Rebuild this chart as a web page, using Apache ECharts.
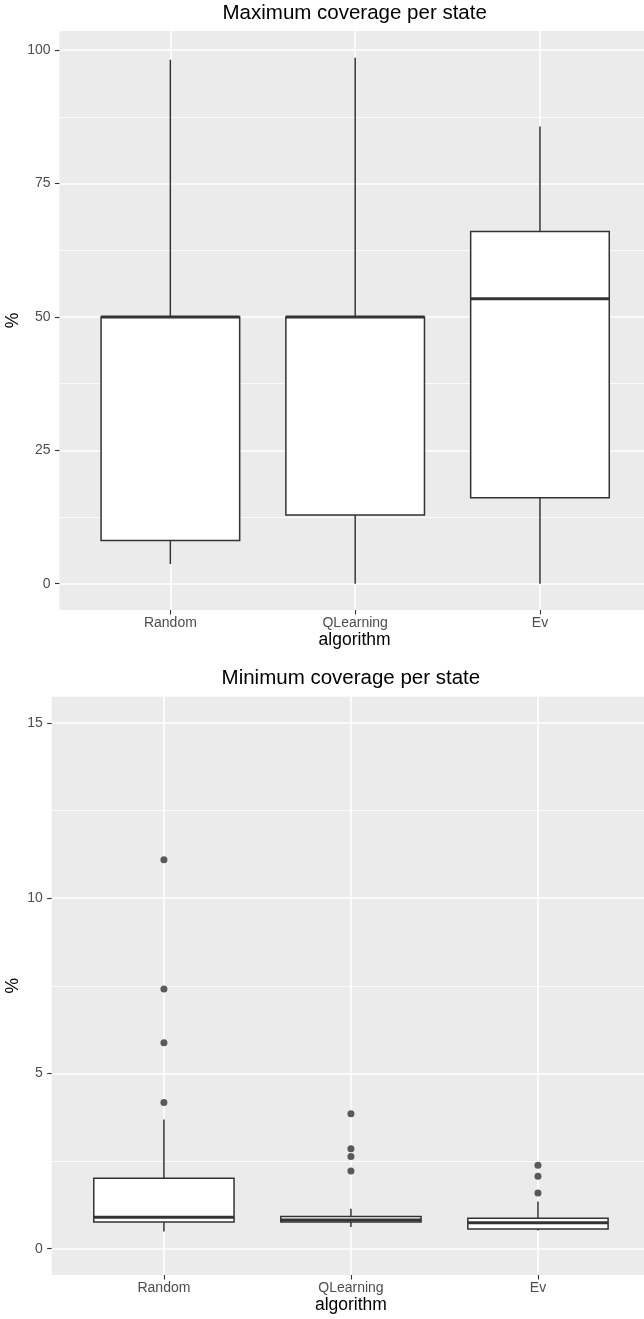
<!DOCTYPE html>
<html>
<head>
<meta charset="utf-8">
<script src="https://cdn.jsdelivr.net/npm/echarts@6/dist/echarts.min.js"></script>
<style>
html,body{margin:0;padding:0;background:#fff;}
#c{width:644px;height:1319px;}
</style>
</head>
<body>
<div id="c"></div>
<script>
// ---- data ----
const categories = ['Random', 'QLearning', 'Ev'];

// Top chart: Maximum coverage per state
const maxLow    = [3.7, 0, 0];
const maxQ1     = [8.1, 12.9, 16.1];
const maxMedian = [50.0, 50.0, 53.4];
const maxQ3     = [50.0, 50.0, 66.0];
const maxHigh   = [98.2, 98.6, 85.7];
const maxTicks  = [0, 25, 50, 75, 100];
const maxMinor  = [12.5, 37.5, 62.5, 87.5];

// Bottom chart: Minimum coverage per state
const minLow    = [0.49, 0.62, 0.52];
const minQ1     = [0.76, 0.76, 0.56];
const minMedian = [0.90, 0.82, 0.74];
const minQ3     = [2.01, 0.92, 0.87];
const minHigh   = [3.69, 1.14, 1.35];
const minOutRandom    = [11.10, 7.41, 5.88, 4.17];
const minOutQLearning = [3.85, 2.85, 2.63, 2.22];
const minOutEv        = [2.38, 2.07, 1.59];
const minTicks  = [0, 5, 10, 15];
const minMinor  = [2.5, 7.5, 12.5];

const catTicks = [0, 1, 2];

// ---- helpers ----
const FONT = '"Liberation Sans", Arial, sans-serif';
const DARK = '#333333';

function boxData(lo, q1, med, q3, hi) {
  return lo.map((v, i) => [i, lo[i], q1[i], med[i], q3[i], hi[i]]);
}
function outlierData(lists) {
  const out = [];
  lists.forEach((arr, i) => arr.forEach(v => out.push([i, v])));
  return out;
}
function renderBox(params, api) {
  const x = api.value(0);
  const pLo = api.coord([x, api.value(1)]);
  const pQ1 = api.coord([x, api.value(2)]);
  const pMed = api.coord([x, api.value(3)]);
  const pQ3 = api.coord([x, api.value(4)]);
  const pHi = api.coord([x, api.value(5)]);
  const w = api.size([0.75, 0])[0];
  const cx = pMed[0];
  return {
    type: 'group',
    children: [
      { type: 'line', shape: { x1: cx, y1: pQ3[1], x2: cx, y2: pHi[1] },
        style: { stroke: DARK, lineWidth: 1.5 } },
      { type: 'line', shape: { x1: cx, y1: pQ1[1], x2: cx, y2: pLo[1] },
        style: { stroke: DARK, lineWidth: 1.5 } },
      { type: 'rect', shape: { x: cx - w / 2, y: pQ3[1], width: w, height: pQ1[1] - pQ3[1] },
        style: { fill: '#ffffff', stroke: DARK, lineWidth: 1.5 } },
      { type: 'line', shape: { x1: cx - w / 2, y1: pMed[1], x2: cx + w / 2, y2: pMed[1] },
        style: { stroke: DARK, lineWidth: 3 } }
    ]
  };
}
function xAxisDef(gridIndex, max) {
  return {
    type: 'value', gridIndex: gridIndex, min: -0.6, max: max, position: 'bottom',
    axisLine: { show: false, onZero: false },
    axisTick: { show: true, length: 4.5, customValues: catTicks, lineStyle: { color: DARK, width: 1.1 } },
    axisLabel: { show: true, customValues: catTicks, margin: 6.5, color: '#4D4D4D',
      fontSize: 14, fontFamily: FONT, formatter: v => categories[Math.round(v)] },
    splitLine: { show: true, lineStyle: { color: '#ffffff', width: 1.6 } }
  };
}
function yAxisDef(gridIndex, min, max, ticks) {
  return {
    type: 'value', gridIndex: gridIndex, min: min, max: max, position: 'left',
    axisLine: { show: false, onZero: false },
    axisTick: { show: true, length: 4.5, customValues: ticks, lineStyle: { color: DARK, width: 1.1 } },
    axisLabel: { show: true, customValues: ticks, margin: 9, color: '#4D4D4D',
      fontSize: 14, fontFamily: FONT },
    splitLine: { show: true, lineStyle: { color: '#ffffff', width: 1.6 } }
  };
}
function yMinorDef(gridIndex, min, max, ticks) {
  return {
    type: 'value', gridIndex: gridIndex, min: min, max: max, position: 'left',
    axisLine: { show: false, onZero: false },
    axisTick: { show: false, customValues: ticks },
    axisLabel: { show: false, customValues: ticks },
    splitLine: { show: true, lineStyle: { color: '#ffffff', width: 0.8 } }
  };
}
function textEl(text, x, y, size, color, rot) {
  return {
    type: 'text', x: x, y: y, rotation: rot || 0, silent: true,
    style: { text: text, x: 0, y: 0, align: 'center', verticalAlign: 'middle',
      fill: color, font: size + 'px ' + FONT }
  };
}

const chart = echarts.init(document.getElementById('c'), null, { renderer: 'canvas' });
chart.setOption({
  animation: false,
  backgroundColor: '#ffffff',
  grid: [
    { left: 59.5, top: 31, width: 584.5, height: 579, show: true, backgroundColor: '#EBEBEB', borderWidth: 0 },
    { left: 51.7, top: 696.7, width: 592.3, height: 578.3, show: true, backgroundColor: '#EBEBEB', borderWidth: 0 }
  ],
  xAxis: [
    xAxisDef(0, 2.563),
    xAxisDef(1, 2.567)
  ],
  yAxis: [
    yAxisDef(0, -4.93, 103.6, maxTicks),
    yMinorDef(0, -4.93, 103.6, maxMinor),
    yAxisDef(1, -0.75, 15.75, minTicks),
    yMinorDef(1, -0.75, 15.75, minMinor)
  ],
  series: [
    { type: 'custom', xAxisIndex: 0, yAxisIndex: 0, renderItem: renderBox,
      encode: { x: 0, y: [1, 2, 3, 4, 5] },
      data: boxData(maxLow, maxQ1, maxMedian, maxQ3, maxHigh), z: 2 },
    { type: 'custom', xAxisIndex: 1, yAxisIndex: 2, renderItem: renderBox,
      encode: { x: 0, y: [1, 2, 3, 4, 5] },
      data: boxData(minLow, minQ1, minMedian, minQ3, minHigh), z: 2 },
    { type: 'scatter', xAxisIndex: 1, yAxisIndex: 2, symbol: 'circle', symbolSize: 7,
      itemStyle: { color: DARK }, z: 3,
      data: outlierData([minOutRandom, minOutQLearning, minOutEv]) }
  ],
  graphic: [
    textEl('Maximum coverage per state', 354.7, 13.8, 20.5, '#000000'),
    textEl('algorithm', 354.6, 640.5, 17.5, '#000000'),
    textEl('%', 13.5, 320.5, 17.5, '#000000', Math.PI / 2),
    textEl('Minimum coverage per state', 350.9, 678.2, 20.5, '#000000'),
    textEl('algorithm', 350.9, 1305.6, 17.5, '#000000'),
    textEl('%', 13.5, 985.8, 17.5, '#000000', Math.PI / 2)
  ]
});
</script>
</body>
</html>
